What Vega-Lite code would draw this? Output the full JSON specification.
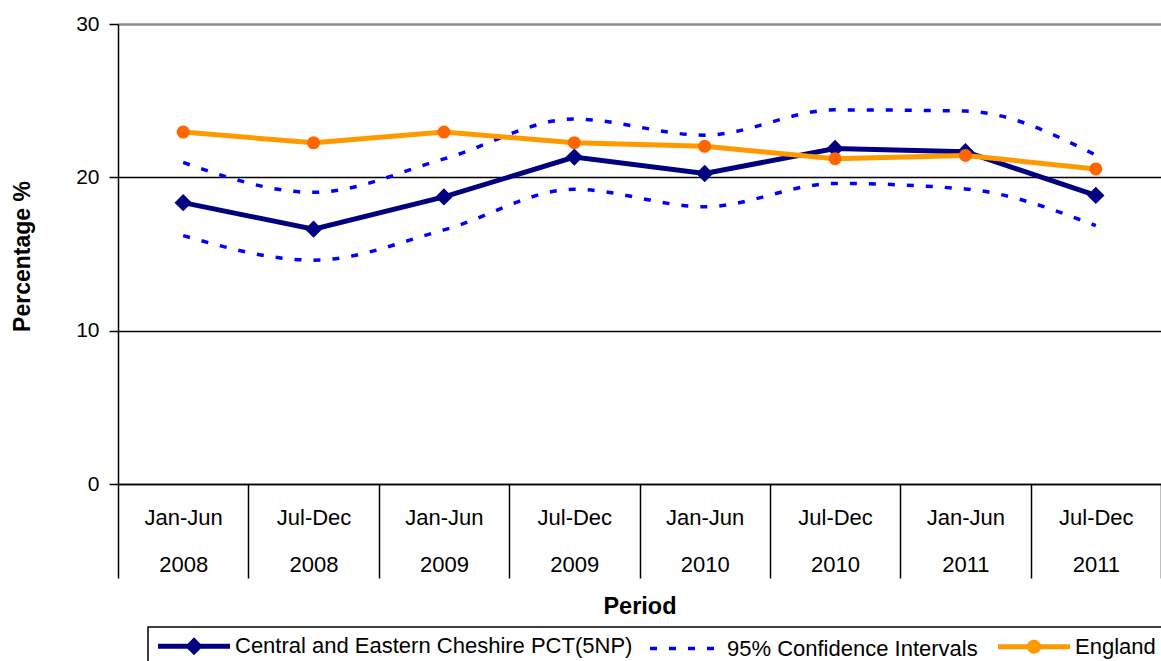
{
  "$schema": "https://vega.github.io/schema/vega-lite/v6.json",
  "width": 1043,
  "height": 460,
  "autosize": {"type": "none"},
  "padding": {"left": 118, "top": 24, "right": 0, "bottom": 177},
  "background": "white",
  "config": {"view": {"stroke": null}, "font": "Liberation Sans"},
  "data": {
    "values": [
      {"period": "Jan-Jun|2008", "group": "Central and Eastern Cheshire PCT(5NP)", "line": "central", "value": 18.35},
      {"period": "Jul-Dec|2008", "group": "Central and Eastern Cheshire PCT(5NP)", "line": "central", "value": 16.62},
      {"period": "Jan-Jun|2009", "group": "Central and Eastern Cheshire PCT(5NP)", "line": "central", "value": 18.72},
      {"period": "Jul-Dec|2009", "group": "Central and Eastern Cheshire PCT(5NP)", "line": "central", "value": 21.32},
      {"period": "Jan-Jun|2010", "group": "Central and Eastern Cheshire PCT(5NP)", "line": "central", "value": 20.25},
      {"period": "Jul-Dec|2010", "group": "Central and Eastern Cheshire PCT(5NP)", "line": "central", "value": 21.88},
      {"period": "Jan-Jun|2011", "group": "Central and Eastern Cheshire PCT(5NP)", "line": "central", "value": 21.67},
      {"period": "Jul-Dec|2011", "group": "Central and Eastern Cheshire PCT(5NP)", "line": "central", "value": 18.82},
      {"period": "Jan-Jun|2008", "group": "95% Confidence Intervals", "line": "upper", "value": 20.97},
      {"period": "Jul-Dec|2008", "group": "95% Confidence Intervals", "line": "upper", "value": 19.02},
      {"period": "Jan-Jun|2009", "group": "95% Confidence Intervals", "line": "upper", "value": 21.2},
      {"period": "Jul-Dec|2009", "group": "95% Confidence Intervals", "line": "upper", "value": 23.8},
      {"period": "Jan-Jun|2010", "group": "95% Confidence Intervals", "line": "upper", "value": 22.75},
      {"period": "Jul-Dec|2010", "group": "95% Confidence Intervals", "line": "upper", "value": 24.4},
      {"period": "Jan-Jun|2011", "group": "95% Confidence Intervals", "line": "upper", "value": 24.32},
      {"period": "Jul-Dec|2011", "group": "95% Confidence Intervals", "line": "upper", "value": 21.45},
      {"period": "Jan-Jun|2008", "group": "95% Confidence Intervals", "line": "lower", "value": 16.2},
      {"period": "Jul-Dec|2008", "group": "95% Confidence Intervals", "line": "lower", "value": 14.6},
      {"period": "Jan-Jun|2009", "group": "95% Confidence Intervals", "line": "lower", "value": 16.57},
      {"period": "Jul-Dec|2009", "group": "95% Confidence Intervals", "line": "lower", "value": 19.22},
      {"period": "Jan-Jun|2010", "group": "95% Confidence Intervals", "line": "lower", "value": 18.08},
      {"period": "Jul-Dec|2010", "group": "95% Confidence Intervals", "line": "lower", "value": 19.6},
      {"period": "Jan-Jun|2011", "group": "95% Confidence Intervals", "line": "lower", "value": 19.24},
      {"period": "Jul-Dec|2011", "group": "95% Confidence Intervals", "line": "lower", "value": 16.85},
      {"period": "Jan-Jun|2008", "group": "England", "line": "england", "value": 22.95},
      {"period": "Jul-Dec|2008", "group": "England", "line": "england", "value": 22.25},
      {"period": "Jan-Jun|2009", "group": "England", "line": "england", "value": 22.95},
      {"period": "Jul-Dec|2009", "group": "England", "line": "england", "value": 22.26},
      {"period": "Jan-Jun|2010", "group": "England", "line": "england", "value": 22.02},
      {"period": "Jul-Dec|2010", "group": "England", "line": "england", "value": 21.22},
      {"period": "Jan-Jun|2011", "group": "England", "line": "england", "value": 21.43},
      {"period": "Jul-Dec|2011", "group": "England", "line": "england", "value": 20.55}
    ]
  },
  "encoding": {
    "x": {
      "field": "period",
      "type": "nominal",
      "sort": ["Jan-Jun|2008", "Jul-Dec|2008", "Jan-Jun|2009", "Jul-Dec|2009", "Jan-Jun|2010", "Jul-Dec|2010", "Jan-Jun|2011", "Jul-Dec|2011"],
      "scale": {"type": "band", "paddingInner": 0, "paddingOuter": 0},
      "axis": {
        "title": "Period",
        "labelExpr": "split(datum.label, '|')",
        "labelAngle": 0,
        "labelFontSize": 22,
        "labelLineHeight": 47,
        "labelBaseline": "top",
        "labelPadding": -71,
        "labelColor": "black",
        "labelOverlap": false,
        "labelBound": false,
        "labelFlush": false,
        "ticks": true,
        "tickBand": "extent",
        "tickSize": 94,
        "tickColor": "black",
        "tickWidth": 1.5,
        "domainColor": "black",
        "domainWidth": 1.5,
        "grid": false,
        "titleFontSize": 23.5,
        "titleFontWeight": "bold",
        "titleColor": "black",
        "titleX": 521.5,
        "titleY": 129,
        "titleBaseline": "alphabetic",
        "titleAlign": "center"
      }
    },
    "y": {
      "field": "value",
      "type": "quantitative",
      "scale": {"domain": [0, 30], "nice": false},
      "axis": {
        "title": "Percentage %",
        "values": [0, 10, 20, 30],
        "grid": true,
        "gridColor": {"condition": {"test": "datum.value === 30", "value": "#8c8c8c"}, "value": "black"},
        "gridWidth": {"condition": {"test": "datum.value === 30", "value": 2.5}, "value": 1.5},
        "domainColor": "black",
        "domainWidth": 1.5,
        "tickColor": "black",
        "tickWidth": 1.5,
        "tickSize": 9,
        "labelPadding": 10,
        "labelFontSize": 21,
        "labelColor": "black",
        "titleFontSize": 23,
        "titleFontWeight": "bold",
        "titleColor": "black",
        "titleAngle": -90,
        "titleX": -89,
        "titleY": 232,
        "titleAlign": "center",
        "titleBaseline": "alphabetic"
      }
    }
  },
  "layer": [
    {
      "transform": [{"filter": "datum.group === '95% Confidence Intervals'"}],
      "mark": {"type": "line", "interpolate": "monotone", "strokeDash": [7, 12], "strokeWidth": 3.5},
      "encoding": {
        "detail": {"field": "line", "type": "nominal"},
        "color": {
          "field": "group",
          "type": "nominal",
          "scale": {
            "domain": ["Central and Eastern Cheshire PCT(5NP)", "95% Confidence Intervals", "England"],
            "range": ["#000080", "#0000FF", "#FF9900"]
          },
          "legend": {
            "title": null,
            "orient": "none",
            "legendX": 30,
            "legendY": 603,
            "direction": "horizontal",
            "strokeColor": "black",
            "padding": 8,
            "labelFontSize": 22,
            "labelColor": "black",
            "labelLimit": 0,
            "labelOffset": 57,
            "symbolSize": 324,
            "columnPadding": 10,
            "symbolStrokeWidth": 4,
            "encode": {
              "legend": {"update": {"strokeWidth": {"value": 1.5}}},
              "symbols": {
                "update": {
                  "shape": {"signal": "datum.value === 'England' ? 'M-1,0L7,0M3.5,0A0.5,0.5,0,1,1,2.5,0A0.5,0.5,0,1,1,3.5,0Z' : datum.value === '95% Confidence Intervals' ? 'M-1,0L7,0' : 'M-1,0L7,0M3,-0.6L3.6,0L3,0.6L2.4,0Z'"},
                  "fill": {"signal": "datum.value === 'England' ? '#FF6600' : datum.value === '95% Confidence Intervals' ? 'transparent' : '#000080'"},
                  "stroke": {"signal": "datum.value === 'England' ? '#FF9900' : datum.value === '95% Confidence Intervals' ? '#0000FF' : '#000080'"},
                  "strokeDash": {"signal": "datum.value === '95% Confidence Intervals' ? [7, 12] : [1, 0]"},
                  "strokeWidth": {"signal": "datum.value === '95% Confidence Intervals' ? 3.5 : 5"},
                  "opacity": {"value": 1}
                }
              }
            }
          }
        }
      }
    },
    {
      "transform": [{"filter": "datum.group === 'Central and Eastern Cheshire PCT(5NP)'"}],
      "mark": {"type": "line", "strokeWidth": 5},
      "encoding": {
        "color": {"field": "group", "type": "nominal"}
      }
    },
    {
      "transform": [{"filter": "datum.group === 'Central and Eastern Cheshire PCT(5NP)'"}],
      "mark": {"type": "point", "shape": "diamond", "filled": true, "size": 300, "color": "#000080", "opacity": 1}
    },
    {
      "transform": [{"filter": "datum.group === 'England'"}],
      "mark": {"type": "line", "strokeWidth": 5},
      "encoding": {
        "color": {"field": "group", "type": "nominal"}
      }
    },
    {
      "transform": [{"filter": "datum.group === 'England'"}],
      "mark": {"type": "point", "shape": "circle", "filled": true, "size": 169, "color": "#FF6600", "opacity": 1}
    }
  ]
}
